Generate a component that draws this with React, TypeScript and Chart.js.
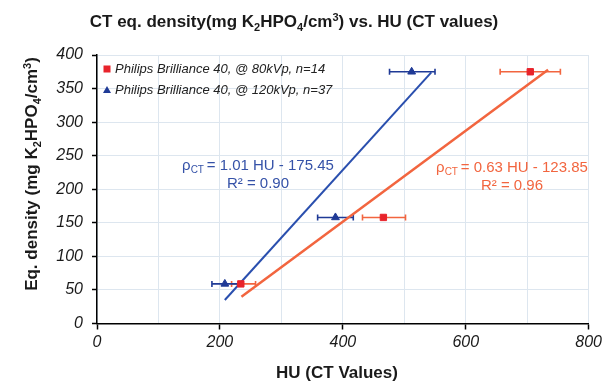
import React, { useEffect, useRef } from "react";
import { Chart, registerables } from "chart.js";

Chart.register(...registerables);

const FONT = "'Liberation Sans', Arial, sans-serif";
Chart.defaults.font.family = FONT;
Chart.defaults.font.style = "italic";

// ---- data ----
const seriesLabels = [
  "Philips Brilliance 40, @ 80kVp, n=14",
  "Philips Brilliance 40, @ 120kVp, n=37",
];
const redHU = [234, 466, 705];
const redDensity = [59, 158, 375];
const redErrLow = [219, 432, 656];
const redErrHigh = [258, 502, 754];

const blueHU = [208, 388, 512];
const blueDensity = [59, 158, 375];
const blueErrLow = [187, 359, 476];
const blueErrHigh = [235, 417, 550];

const redFitHU = [235, 734];
const redFitDensity = [40, 378];
const blueFitHU = [208, 544];
const blueFitDensity = [35, 374];

const xTicks = [0, 200, 400, 600, 800];
const blueEq = ["= 1.01 HU - 175.45", "R² = 0.90"];
const redEq = ["= 0.63 HU - 123.85", "R² = 0.96"];

const RED = "#e8232b";
const RED_LINE = "#f2653f";
const BLUE = "#1f3a96";
const BLUE_LINE = "#2a4fae";
const BLUE_TEXT = "#3552a8";

type Part = { t: string; sub?: boolean; sup?: boolean };

function drawRich(
  ctx: CanvasRenderingContext2D,
  parts: Part[],
  x: number,
  y: number,
  size: number,
  weight: string,
  style: string,
  color: string,
  align: "center" | "left"
) {
  const small = Math.round(size * 0.65);
  const fontFor = (p: Part) =>
    `${style} ${weight} ${p.sub || p.sup ? small : size}px ${FONT}`;
  let total = 0;
  const widths = parts.map((p) => {
    ctx.font = fontFor(p);
    const w = ctx.measureText(p.t).width;
    total += w;
    return w;
  });
  let cx = align === "center" ? x - total / 2 : x;
  ctx.fillStyle = color;
  ctx.textBaseline = "alphabetic";
  ctx.textAlign = "left";
  parts.forEach((p, i) => {
    ctx.font = fontFor(p);
    const dy = p.sub ? size * 0.22 : p.sup ? -size * 0.38 : 0;
    ctx.fillText(p.t, cx, y + dy);
    cx += widths[i];
  });
}

const errorBars = [
  { hu: redHU, y: redDensity, lo: redErrLow, hi: redErrHigh, color: RED_LINE },
  { hu: blueHU, y: blueDensity, lo: blueErrLow, hi: blueErrHigh, color: BLUE },
];

const decorPlugin = {
  id: "decor",
  beforeDatasetsDraw(chart: any) {
    const ctx = chart.ctx as CanvasRenderingContext2D;
    const xs = chart.scales.x;
    const ys = chart.scales.y;
    ctx.save();
    errorBars.forEach((s) => {
      ctx.strokeStyle = s.color;
      ctx.lineWidth = 1.6;
      s.y.forEach((v, i) => {
        const py = ys.getPixelForValue(v);
        const x1 = xs.getPixelForValue(s.lo[i]);
        const x2 = xs.getPixelForValue(s.hi[i]);
        ctx.beginPath();
        ctx.moveTo(x1, py);
        ctx.lineTo(x2, py);
        ctx.moveTo(x1, py - 3);
        ctx.lineTo(x1, py + 3);
        ctx.moveTo(x2, py - 3);
        ctx.lineTo(x2, py + 3);
        ctx.stroke();
      });
    });
    ctx.restore();
  },
  afterDraw(chart: any) {
    const ctx = chart.ctx as CanvasRenderingContext2D;
    ctx.save();
    // title
    drawRich(
      ctx,
      [
        { t: "CT eq. density(mg K" },
        { t: "2", sub: true },
        { t: "HPO" },
        { t: "4", sub: true },
        { t: "/cm" },
        { t: "3", sup: true },
        { t: ") vs. HU (CT values)" },
      ],
      294,
      27,
      17,
      "bold",
      "normal",
      "#1a1a1a",
      "center"
    );
    // y axis title
    ctx.save();
    ctx.translate(37, 174);
    ctx.rotate(-Math.PI / 2);
    drawRich(
      ctx,
      [
        { t: "Eq. density (mg K" },
        { t: "2", sub: true },
        { t: "HPO" },
        { t: "4", sub: true },
        { t: "/cm" },
        { t: "3", sup: true },
        { t: ")" },
      ],
      0,
      0,
      17,
      "bold",
      "normal",
      "#1a1a1a",
      "center"
    );
    ctx.restore();
    // x axis title
    ctx.font = `normal bold 17px ${FONT}`;
    ctx.fillStyle = "#1a1a1a";
    ctx.textAlign = "center";
    ctx.textBaseline = "alphabetic";
    ctx.fillText("HU (CT Values)", 337, 378);

    // legend
    const lx = chart.chartArea.left + 10;
    const ly0 = 69;
    const ly1 = 90;
    ctx.fillStyle = RED;
    ctx.fillRect(lx - 3.5, ly0 - 3.5, 7, 7);
    ctx.fillStyle = BLUE;
    ctx.beginPath();
    ctx.moveTo(lx, ly1 - 4);
    ctx.lineTo(lx + 4, ly1 + 3);
    ctx.lineTo(lx - 4, ly1 + 3);
    ctx.closePath();
    ctx.fill();
    ctx.font = `italic 13px ${FONT}`;
    ctx.fillStyle = "#222";
    ctx.textAlign = "left";
    ctx.textBaseline = "middle";
    ctx.fillText(seriesLabels[0], lx + 8, ly0);
    ctx.fillText(seriesLabels[1], lx + 8, ly1);

    // equations
    const drawEq = (lines: string[], cx: number, y1: number, y2: number, color: string) => {
      ctx.font = `normal 15px ${FONT}`;
      const wRho = ctx.measureText("ρ").width;
      ctx.font = `normal 10px ${FONT}`;
      const wCT = ctx.measureText("CT ").width;
      ctx.font = `normal 15px ${FONT}`;
      const wRest = ctx.measureText(lines[0]).width;
      const total = wRho + wCT + wRest;
      let x = cx - total / 2;
      ctx.fillStyle = color;
      ctx.textAlign = "left";
      ctx.textBaseline = "alphabetic";
      ctx.fillText("ρ", x, y1);
      x += wRho;
      ctx.font = `normal 10px ${FONT}`;
      ctx.fillText("CT", x, y1 + 3);
      x += wCT;
      ctx.font = `normal 15px ${FONT}`;
      ctx.fillText(lines[0], x, y1);
      ctx.textAlign = "center";
      ctx.fillText(lines[1], cx, y2);
    };
    drawEq(blueEq, 258, 170, 188, BLUE_TEXT);
    drawEq(redEq, 512, 172, 190, RED_LINE);
    ctx.restore();
  },
};

export default function App() {
  const ref = useRef<HTMLCanvasElement | null>(null);
  useEffect(() => {
    if (!ref.current) return;
    const tickFont = { family: FONT, size: 16, style: "italic" as const, weight: "normal" as const };
    const chart = new Chart(ref.current, {
      type: "scatter",
      data: {
        datasets: [
          {
            label: seriesLabels[0],
            data: redHU.map((x, i) => ({ x, y: redDensity[i] })),
            pointStyle: "rect",
            pointRadius: 4.5,
            backgroundColor: RED,
            borderColor: RED,
            order: 0,
          },
          {
            label: seriesLabels[1],
            data: blueHU.map((x, i) => ({ x, y: blueDensity[i] })),
            pointStyle: "triangle",
            pointRadius: 4.5,
            backgroundColor: BLUE,
            borderColor: BLUE,
            order: 0,
          },
          {
            label: "fit80",
            data: redFitHU.map((x, i) => ({ x, y: redFitDensity[i] })),
            showLine: true,
            pointRadius: 0,
            borderColor: RED_LINE,
            borderWidth: 2.5,
            order: 1,
          },
          {
            label: "fit120",
            data: blueFitHU.map((x, i) => ({ x, y: blueFitDensity[i] })),
            showLine: true,
            pointRadius: 0,
            borderColor: BLUE_LINE,
            borderWidth: 2,
            order: 1,
          },
        ],
      },
      options: {
        animation: false,
        responsive: false,
        layout: { padding: { left: 0, right: 15, top: 55, bottom: 0 } },
        plugins: {
          legend: { display: false },
          tooltip: { enabled: false },
          title: { display: false },
        },
        scales: {
          x: {
            type: "linear",
            min: 0,
            max: 800,
            afterBuildTicks: (s: any) => {
              const t: any[] = [];
              for (let v = 0; v <= 800; v += 100) t.push({ value: v });
              s.ticks = t;
            },
            ticks: {
              autoSkip: false,
              maxRotation: 0,
              padding: 3,
              color: "#1a1a1a",
              font: tickFont,
              callback: (v: any) => (xTicks.includes(Number(v)) ? String(v) : ""),
            },
            grid: {
              color: "#dde6ef",
              lineWidth: 1,
              tickLength: 6,
              tickWidth: 1.5,
              tickColor: (c: any) =>
                c.tick && xTicks.includes(c.tick.value) ? "#000" : "rgba(0,0,0,0)",
            },
            border: { color: "#000", width: 1.5 },
            afterFit: (s: any) => {
              s.height = 63.5;
            },
          },
          y: {
            type: "linear",
            min: 0,
            max: 400,
            ticks: {
              stepSize: 50,
              padding: 9,
              color: "#1a1a1a",
              font: tickFont,
            },
            grid: {
              color: "#dde6ef",
              lineWidth: 1,
              tickLength: 5,
              tickWidth: 1.5,
              tickColor: "#000",
            },
            border: { color: "#000", width: 1.5 },
            afterFit: (s: any) => {
              s.width = 97;
            },
          },
        },
      },
      plugins: [decorPlugin],
    });
    return () => chart.destroy();
  }, []);
  return (
    <div style={{ position: "absolute", left: 0, top: 0, width: 605, height: 387, background: "#fff" }}>
      <canvas ref={ref} width={605} height={387} style={{ display: "block" }} />
    </div>
  );
}
